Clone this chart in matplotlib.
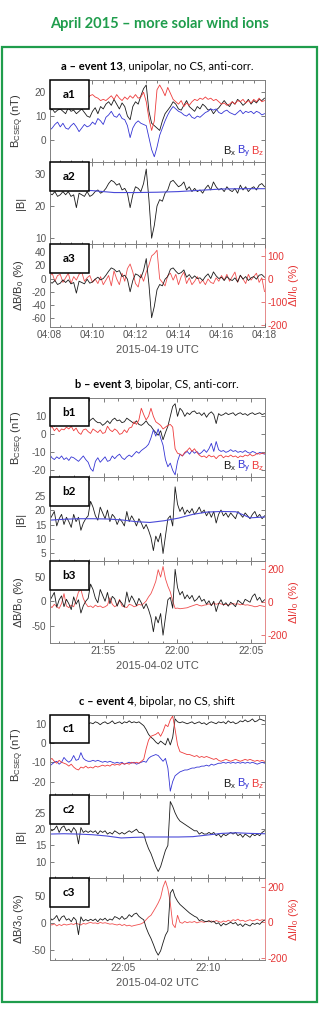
import matplotlib.pyplot as plt
import matplotlib.dates as mdates
from matplotlib.patches import Rectangle
from matplotlib.offsetbox import TextArea, HPacker, AnnotationBbox
import pandas as pd

plt.rcParams["font.family"] = ["Liberation Sans", "DejaVu Sans"]
plt.rcParams["axes.unicode_minus"] = False
plt.rcParams["mathtext.fontset"] = "custom"
plt.rcParams["mathtext.rm"] = "Liberation Sans"
plt.rcParams["mathtext.it"] = "Liberation Sans:italic"
plt.rcParams["mathtext.default"] = "regular"

# ---- event a: 2015-04-19, 04:08-04:18 (7.5 s samples)
A_T = ("2015-04-19 04:08:00", "2015-04-19 04:18:00")
a_bx = [12, 13, 11.5, 12.5, 13, 12, 11, 13.5, 12, 12.5, 11, 12, 13, 11.5, 10, 9.5, 12, 13.5,
        11, 14, 13, 15, 16, 14.5, 17, 15, 13, 15.5, 14, 10, 8.5, 14, 16, 15, 18.5, 21.5,
        23, 12, 7, 6, 5, 4, 8, 11, 12.5, 14, 16, 15, 13, 12.5, 14.5, 16.5, 14, 13,
        12, 14, 13, 15, 14, 12.5, 13, 11, 12.5, 13.5, 15, 16.5, 15, 14, 16, 15, 17, 16,
        14.5, 15.5, 17, 15, 16.5, 15.5, 17, 16.5, 17.5]
a_by = [4, 5, 6.5, 7.5, 5.5, 7, 5, 4.5, 6, 7, 5.5, 3.5, 5, 6.5, 5.5, 6, 7.5, 6.5,
        9, 8, 6.5, 9.5, 10.5, 12, 10, 9.5, 11, 9, 8.5, 6, 1, 5, 7, 8, 7, 6.5,
        6, 1, -4, -7, -3, 2, 5, 8, 10.5, 12.5, 14, 13, 12, 11.5, 10.5, 10, 11, 9.5,
        9, 10, 9.5, 10.5, 11.5, 12, 13, 12.5, 13, 11.5, 11, 12, 12.5, 11.5, 11, 10.5, 11.5, 12.5,
        11, 12, 11.5, 12, 11, 12, 11.5, 10.5, 11]
a_bz = [18, 17, 19, 18.5, 17.5, 18, 19, 17, 18, 18.5, 17.5, 18, 19, 18, 17, 18.5, 19, 18,
        17.5, 16.5, 17, 16.5, 17.5, 18.5, 17, 19, 17.5, 16.5, 18, 17, 18.5, 17.5, 19, 17.5, 18, 20,
        16, 9, 4, 8, 21, 23, 21, 18.5, 22, 19.5, 17, 16, 15, 16.5, 14, 15.5, 14.5, 16,
        17, 16.5, 17.5, 17, 18, 17, 17.5, 16.5, 17, 16, 15, 15.5, 14.5, 15, 16, 15, 16.5, 16,
        17, 15.5, 16.5, 15.5, 17, 16, 17.5, 16, 16.5]
a_absb = [24, 23.5, 24.5, 23, 23.5, 24.5, 23.5, 24.5, 23, 23.5, 19.5, 24, 23.5, 23, 24.5, 23, 23.5, 24.5,
          25, 24, 24.5, 25.5, 27, 28, 27.5, 26.5, 27, 25, 25.5, 24, 19.5, 23.5, 26, 25.5, 24.5, 27,
          31.5, 22, 10, 14, 20, 22, 21.5, 24, 25, 27.5, 28, 27, 26, 26.5, 27.5, 25, 26, 24.5,
          25.5, 24.5, 25, 24, 25.5, 26.5, 25, 27.5, 26, 25, 25.5, 24.5, 26, 25, 24.5, 25.5, 24, 26.5,
          25, 26, 24.5, 25.5, 26, 25, 26.5, 27, 26]
a_b0 = [25.3, 25.1, 24.8, 24.2, 24.2, 24.3, 24.5, 24.9, 25.3, 25.4, 25.4]
a_db = [-5, -7, -3, -9, -7, -2, -6, -2, -8, -6, -22, -4, -6, -8, -1, -7, -5, -1,
        2, -2, 0, 5, 11, 16, 14, 10, 12, 3, 5, -1, -20, -3, 7, 5, 1, 12,
        30, -9, -59, -42, -17, -9, -11, -1, 3, 14, 16, 11, 7, 9, 13, 2, 6, 0,
        4, 0, 1, -3, 3, 7, 0, 10, 4, 0, 2, -3, 3, -1, -3, 1, -5, 5,
        -1, 3, -3, 1, 3, -1, 5, 6, 2]
a_di = [10, 25, -10, 15, 20, -15, 5, 25, -20, 10, -5, 20, 30, -10, 5, 15, -15, 0,
        -20, 10, -25, -5, 15, -30, 35, 0, -25, 25, -10, 45, 65, 30, -20, -35, 20, -10,
        30, 60, 100, 110, 125, 0, -15, -30, 15, 25, -5, 20, -25, 10, 30, -20, 5, -25,
        -10, 10, -20, -5, -25, 0, -15, -20, 5, -10, 15, -5, 20, -10, 10, 30, -15, 15,
        0, -20, 20, -5, 10, 25, -15, 5, -55]

# ---- event b: 2015-04-02, 21:51:20-22:05:55
B_T = ("2015-04-02 21:51:20", "2015-04-02 22:05:55")
b_bx = [5, 6.5, 4.5, 7, 5.5, 6, 8, 5, 6.5, 7.5, 5, 6, 8, 7, 5.5, 7, 6.5,
        8, 9, 7.5, 6.5, 6.5, 5, 6, 7.5, 6, 8, 9, 7.5, 8, 6.5, 7, 9, 8, 7,
        6, 7.5, 5.5, 5, 6, 7.5, 5.5, 4.5, 2.5, 1, -0.5, 2, -3, 1, 4.5, 10, 15.5, 17,
        10, 14.5, 13, 10, 12, 11, 12.5, 13, 11.5, 12, 10.5, 12, 9.5, 11.5, 12.5, 11, 6, 11.5,
        10.5, 11, 12, 11, 11.5, 12, 10.5, 11.5, 12, 11, 11.5, 10.5, 11.5, 12, 11, 11.5, 12, 11, 11.5]
b_by = [-11, -13, -14, -12.5, -13.5, -12, -14, -13, -14.5, -12.5, -13, -14, -15, -13.5, -12, -14, -15.5,
        -19, -20.5, -15, -13, -15.5, -14, -12.5, -15, -14.5, -12, -13.5, -12, -11, -13, -14, -12.5, -11.5, -12.5,
        -11, -9.5, -10.5, -9, -8, -7, -5.5, -2, 2.5, -1, 3, -2, -6, -14, -18, -16, -20, -22.5,
        -15, -11, -12, -10.5, -9.5, -11, -9, -10.5, -9.5, -11, -10, -8.5, -10, -8, -5, -9.5, -4, -8.5,
        -9.5, -9, -10, -9.5, -8.5, -9.5, -9, -10, -9.5, -10, -9, -10, -10.5, -9.5, -10, -11, -10, -10.5, -11]
b_bz = [3, 4.5, 2, 3.5, 1.5, 3, 2.5, 4, 3, 4.5, 2, 3.5, 1, 0, 2.5, 3, 1.5,
        0.5, 3, 2, 1, 2.5, 0.5, 1, 4.5, 2.5, 1.5, 3, 2, 0, 0.5, 2.5, 1, 3.5, 4,
        7, 5.5, 8, 14.5, 11, 8, 10, 14.5, 10, 7, 6, 5, 3, 4, 5, 5.5, 4, -8,
        -10.5, -11, -12, -10, -9, -7.5, -9.5, -8, -10, -11.5, -12.5, -12, -13, -11.5, -12.5, -12, -13.5, -12,
        -11.5, -13, -12, -12.5, -11.5, -12.5, -12, -13, -12, -12.5, -11.5, -12, -11, -12, -11.5, -10.5, -11, -10.5, -10.5]
b_absb = [16.5, 18, 19.5, 14.5, 17, 18.5, 15, 17.5, 16, 14, 18.5, 16, 17.5, 13, 15.5, 17, 18,
          23, 21, 18, 16.5, 21, 19, 17, 20, 16, 18.5, 17.5, 15, 17, 16, 14.5, 19.5, 16, 18,
          16.5, 14.5, 17, 15.5, 13.5, 15, 13, 10.5, 6, 11, 9, 12, 5, 11, 17, 18, 14.5, 28,
          22, 19.5, 21, 18.5, 20, 19, 20.5, 18.5, 19.5, 21, 19, 20, 18, 19.5, 17.5, 19.5, 15.5, 18.5,
          20, 18, 19, 17.5, 19, 18, 17, 19.5, 18.5, 17.5, 19, 18, 17, 18.5, 19.5, 17.5, 18.5, 17, 18]
b_b0 = [16.5, 16.8, 17.0, 17.0, 16.9, 16.6, 16.0, 15.7, 16.3, 17.2, 18.5, 19.3, 19.5, 19.4, 17.3, 17.6]
b_db = [0, 9, 18, -12, 3, 11, -11, 4, -5, -17, 9, -6, 3, -24, -9, 0, 6,
        35, 24, 6, -3, 24, 12, 0, 18, -5, 10, 5, -10, 2, -4, -12, 19, -2, 11,
        2, -9, 6, -3, -15, -5, -17, -33, -62, -31, -44, -25, -69, -33, 3, 8, -14, 65,
        28, 13, 20, 5, 13, 5, 12, 0, 4, 11, 0, 4, -6, 1, -9, 0, -21, -5,
        3, -8, -3, -10, -2, -6, -11, 2, -2, -6, 4, 1, -2, 10, 15, 2, 8, -2, 3]
b_di = [-20, -35, -15, -30, -40, -10, 50, -25, -35, -20, -30, 10, 60, 75, 20, -10, -30,
        -25, -35, -20, -30, -25, -35, -30, -20, 25, -15, -30, -20, 15, -25, -30, -35, -15, -20,
        -30, -25, -15, -20, -10, 5, 30, 50, 85, 125, 195, 150, 215, 140, 95, 60, 5, -40,
        -38, -42, -40, -38, -36, -30, -25, -20, -15, -22, -25, -20, -18, -12, -20, -8, -15, -10,
        -12, -18, -15, -20, -14, -10, -15, -12, -18, -15, -20, -18, -22, -25, -30, -28, -22, -25, -28]

# ---- event c: 2015-04-02, 22:00:40-22:13:18
C_T = ("2015-04-02 22:00:40", "2015-04-02 22:13:18")
c_bx = [10.5, 11, 10, 11.5, 10.5, 10, 11, 10.5, 11.5, 10, 10.5, 11, 10, 10.5, 11, 10.5, 10,
        10.5, 10, 11, 10.5, 9.5, 10.5, 11, 10, 10.5, 11.5, 10, 10.5, 11, 10, 11, 10.5, 11.5, 10.5,
        11, 10.5, 11, 10, 9, 7, 4.5, 3, 2, 0.5, -0.5, 1, 0, -1, 2.5, -1, 3, 12.5,
        11, 10.5, 11, 10.5, 10, 10.5, 11, 10, 10.5, 11, 10, 10.5, 9.5, 10.5, 11, 10.5, 10, 11,
        10.5, 11, 10, 11.5, 10.5, 11, 10, 10.5, 11.5, 11, 12, 11, 11.5, 12.5, 11, 11.5, 12.5, 12, 11.5]
c_by = [-12, -11, -10, -9.5, -11, -10, -7.5, -9, -10, -9, -6.5, -9, -8.5, -5, -8, -9, -9.5,
        -9.5, -9, -9.5, -9, -9.5, -10, -9.5, -10, -9.5, -10, -10.5, -10, -10.5, -10, -11, -10.5, -10, -10.5,
        -10, -11, -10.5, -10, -9.5, -10, -8, -7, -6.5, -6, -6.5, -8, -9.5, -8, -13, -25, -20, -17,
        -16, -15, -14.5, -14, -14, -13.5, -13, -13, -12.5, -12.5, -12, -12, -11.5, -12, -11, -11.5, -11, -10.5,
        -10.5, -10, -10.5, -10, -10.5, -10, -10.5, -10, -10.5, -10, -10.5, -10, -10.5, -10, -10.5, -11, -10.5, -10, -10.5]
c_bz = [-9, -8, -9.5, -10.5, -9, -10, -10.5, -11, -12, -11, -12.5, -13.5, -14, -12.5, -13, -12, -13,
        -12.5, -13, -12, -12.5, -12, -11.5, -12, -11.5, -12, -11, -11.5, -11, -11.5, -10.5, -11, -10.5, -11, -10,
        -10.5, -10, -10.5, -9.5, -8.5, -3, 1.5, 3.5, 4, 4.5, 5.5, 3.5, 6, 9.5, 8.5, 12, 14, 7,
        -1, -4.5, -5, -5.5, -6, -6, -6.5, -7, -6.5, -7.5, -7, -7.5, -7, -7.5, -8, -8.5, -8, -9,
        -9.5, -9, -8.5, -9, -9.5, -9, -8.5, -9, -9.5, -9, -8.5, -9, -8.5, -9, -9.5, -9, -9.5, -9, -9.5]
c_absb = [20.5, 19.5, 20, 21, 19, 20.5, 21, 19.5, 20, 19, 20.5, 19.5, 15.5, 20.5, 19, 19.5, 19,
          19.5, 19, 19.5, 18.5, 19.5, 19, 19.5, 18.5, 19, 18.5, 19.5, 19, 18.5, 19, 18.5, 19, 19.5, 19,
          19.5, 20, 19, 19, 18.5, 16, 14, 12.5, 10.5, 8.5, 7, 8.5, 11, 13.5, 15, 28.5, 27, 25,
          23.5, 22.5, 22, 21.5, 21, 20.5, 20, 19.5, 19.5, 18.5, 19, 18.5, 18.5, 19, 18.5, 19, 18, 18.5,
          17.5, 18.5, 18, 18.5, 19, 18.5, 19, 18, 18.5, 17.5, 18.5, 18, 17.5, 18.5, 18, 18.5, 18, 19, 19.5]
c_b0 = [18.5, 18.6, 18.5, 18.3, 17.9, 17.3, 17.5, 17.6, 17.6, 17.6, 17.7, 18.2, 18.7, 18.9, 18.7, 18.6]
c_db = [11, 5, 8, 13.5, 3, 10.5, 13, 5, 7.5, 2, 10, 5, -22, 11, 3, 6, 3.5,
        6.5, 4, 7, 2, 7.5, 5, 8.5, 3.5, 7, 5, 11.5, 9.5, 6.5, 12, 6.5, 9, 15, 11,
        16, 18, 12, 8.5, 5.5, -9, -20, -29, -40, -52, -60, -52, -37, -23, -15, 55, 62, 48,
        40, 34, 30, 26, 22, 18, 15, 12, 10, 4, 6, 3, 2, 4, 1, 3, -2, 0,
        -6, -1, -4, -1.5, 1, -2, 0.5, -5, -2, -7, -2, -4, -6, -1, -3, -0.5, -3, 2, 5]
c_di = [-10, -15, -8, -20, -12, -18, -10, -15, -12, -8, -12, -5, -10, -15, -6, -10, -4,
        0, -5, -3, -8, 0, -5, -2, -6, -10, -8, -12, -15, -10, -18, -12, -20, -16, -22,
        -18, -15, -12, -8, 0, 15, 30, 40, 62, 85, 110, 140, 200, 235, 190, 110, -10, -30,
        40, 0, -5, 5, -2, 3, 0, 5, -3, 2, 4, 0, 6, 3, 8, 2, 10, 5,
        0, 8, 3, 12, 5, 15, 10, 18, 8, 12, 5, 10, 15, 8, 12, 18, 10, 15, 12]

W, H = 319, 1009
GREEN = "#1f9d4c"
BLK, BLU, RED = "#1a1a1a", "#3434d4", "#ee3b3b"
GREY = "#555555"
X0, X1 = 49.5, 264.5

fig = plt.figure(figsize=(W / 100, H / 100), dpi=100)


def rect(y0, y1):
    return [X0 / W, 1 - y1 / H, (X1 - X0) / W, (y1 - y0) / H]


def times(t, vals):
    return pd.date_range(t[0], t[1], periods=len(vals))


def style(ax, tlim, major, minor, right=True):
    ax.set_xlim(pd.Timestamp(tlim[0]), pd.Timestamp(tlim[1]))
    ax.xaxis.set_major_locator(major)
    ax.xaxis.set_minor_locator(minor)
    ax.xaxis.set_major_formatter(mdates.DateFormatter("%H:%M"))
    ax.tick_params(which="both", direction="in", top=True, right=right,
                   labelsize=7.2, labelcolor=GREY, color="#666666", width=0.6, pad=2.5)
    ax.tick_params(which="major", length=3)
    ax.tick_params(which="minor", length=1.8)
    for s in ax.spines.values():
        s.set_color("#808080")
        s.set_linewidth(0.7)


def tag(top, text):
    fig.add_artist(Rectangle((X0 / W, 1 - (top + 28.5) / H), 39 / W, 28.5 / H,
                             transform=fig.transFigure, fc="white", ec="black", lw=1.1, zorder=10))
    fig.text((X0 + 19.5) / W, 1 - (top + 14.5) / H, text, ha="center", va="center",
             fontsize=8.5, fontweight="bold", family=["Lato", "DejaVu Sans"], zorder=11)


def section(t, tops, title, date, letter, bx, by, bz, absb, b0, db, di,
            lims, major, minor, db_label):
    ylab_x = (26 - X0) / (X1 - X0)
    # panel 1: field components
    ax1 = fig.add_axes(rect(tops[0], tops[1]))
    for vals, c in ((bx, BLK), (by, BLU), (bz, RED)):
        ax1.plot(times(t, vals), vals, color=c, lw=0.6)
    style(ax1, t, major, minor)
    ax1.tick_params(labelbottom=False)
    ax1.set_ylim(*lims[0][0])
    ax1.set_yticks(lims[0][1])
    ax1.set_ylabel(r"B$_{\mathrm{CSEQ}}$ (nT)", fontsize=8, color="#333333")
    ax1.yaxis.set_label_coords(ylab_x, 0.5)
    for xf, s, c in ((0.807, "x", BLK), (0.872, "y", BLU), (0.935, "z", RED)):
        ax1.text(xf, 0.1, "B$_{\\mathrm{%s}}$" % s, color=c, fontsize=8,
                 transform=ax1.transAxes, va="baseline")
    # panel 2: |B| and background
    ax2 = fig.add_axes(rect(tops[1], tops[2]))
    ax2.plot(times(t, absb), absb, color=BLK, lw=0.6)
    ax2.plot(times(t, b0), b0, color="#4a4ad8", lw=0.8)
    style(ax2, t, major, minor)
    ax2.tick_params(labelbottom=False)
    ax2.set_ylim(*lims[1][0])
    ax2.set_yticks(lims[1][1])
    ax2.set_ylabel("|B|", fontsize=8, color="#333333")
    ax2.yaxis.set_label_coords(ylab_x, 0.5)
    # panel 3: relative fluctuations
    ax3 = fig.add_axes(rect(tops[2], tops[3]))
    tw = ax3.twinx()
    tw.plot(times(t, di), di, color=RED, lw=0.6, alpha=0.9)
    ax3.plot(times(t, db), db, color=BLK, lw=0.6)
    ax3.set_zorder(tw.get_zorder() + 1)
    ax3.patch.set_visible(False)
    style(ax3, t, major, minor, right=False)
    ax3.spines["right"].set_visible(False)
    ax3.set_ylim(*lims[2][0])
    ax3.set_yticks(lims[2][1])
    ax3.set_ylabel(db_label, fontsize=8, color="#333333")
    ax3.yaxis.set_label_coords(ylab_x, 0.5)
    tw.set_ylim(*lims[3][0])
    tw.set_yticks(lims[3][1])
    for k in ("left", "top", "bottom"):
        tw.spines[k].set_visible(False)
    tw.spines["right"].set_color("#e58a8a")
    tw.spines["right"].set_linewidth(0.7)
    tw.tick_params(axis="y", direction="in", length=3, width=0.6, labelsize=7.2,
                   color="#e06060", labelcolor="#e53535", pad=2)
    tw.set_ylabel(r"$\Delta$I/I$_0$ (%)", fontsize=8, color="#e53535")
    tw.yaxis.set_label_coords((287 - X0) / (X1 - X0), 0.5)
    # tags, titles
    for k, top in enumerate(tops[:3]):
        tag(top, f"{letter}{k + 1}")
    fig.text((X0 + X1) / 2 / W, 1 - (tops[3] + 23) / H, date, ha="center", va="center",
             fontsize=8, color=GREY)
    p = HPacker(children=[TextArea(title[0], textprops=dict(fontsize=8, fontweight="bold",
                                                             family=["Lato", "DejaVu Sans"])),
                          TextArea(title[1], textprops=dict(fontsize=8,
                                                             family=["Lato", "DejaVu Sans"]))],
                align="baseline", pad=0, sep=0)
    fig.add_artist(AnnotationBbox(p, (157 / W, 1 - (tops[0] - 13) / H), xycoords="figure fraction",
                                  frameon=False, box_alignment=(0.5, 0.5), pad=0))


section(A_T, [80, 162, 244, 327], ("a – event 13", ", unipolar, no CS, anti-corr."),
        "2015-04-19 UTC", "a", a_bx, a_by, a_bz, a_absb, a_b0, a_db, a_di,
        [((-9.2, 25.1), [0, 10, 20]), ((8.2, 33.7), [10, 20, 30]),
         ((-73, 52), [-60, -40, -20, 0, 20, 40]), ((-209, 152), [-200, -100, 0, 100])],
        mdates.MinuteLocator(byminute=range(0, 60, 2)), mdates.SecondLocator(bysecond=[0, 30]),
        r"$\Delta$B/B$_0$ (%)")
section(B_T, [398, 477, 561, 643], ("b – event 3", ", bipolar, CS, anti-corr."),
        "2015-04-02 UTC", "b", b_bx, b_by, b_bz, b_absb, b_b0, b_db, b_di,
        [((-23.7, 20.2), [-20, -10, 0, 10]), ((2.4, 31.4), [5, 10, 15, 20, 25]),
         ((-85, 82), [-50, 0, 50]), ((-250, 248), [-200, 0, 200])],
        mdates.MinuteLocator(byminute=range(0, 60, 5)), mdates.MinuteLocator(),
        r"$\Delta$B/B$_0$ (%)")
section(C_T, [714.5, 795, 878, 960], ("c – event 4", ", bipolar, no CS, shift"),
        "2015-04-02 UTC", "c", c_bx, c_by, c_bz, c_absb, c_b0, c_db, c_di,
        [((-27, 14.8), [-20, -10, 0, 10]), ((5, 30.5), [10, 15, 20, 25]),
         ((-69, 83), [-50, 0, 50]), ((-213, 251), [-200, 0, 200])],
        mdates.MinuteLocator(byminute=range(0, 60, 5)), mdates.MinuteLocator(),
        r"$\Delta$B/3$_0$ (%)")

fig.text(0.5, 1 - 24 / H, "April 2015 – more solar wind ions", ha="center", va="center",
         fontsize=10.5, fontweight="bold", color=GREEN, family=["Lato", "DejaVu Sans"])
fig.add_artist(Rectangle((2 / W, 1 - 1002 / H), 314.5 / W, 955 / H, transform=fig.transFigure,
                         fill=False, ec=GREEN, lw=1.6, zorder=12))

fig.savefig("out.png", dpi=100)
